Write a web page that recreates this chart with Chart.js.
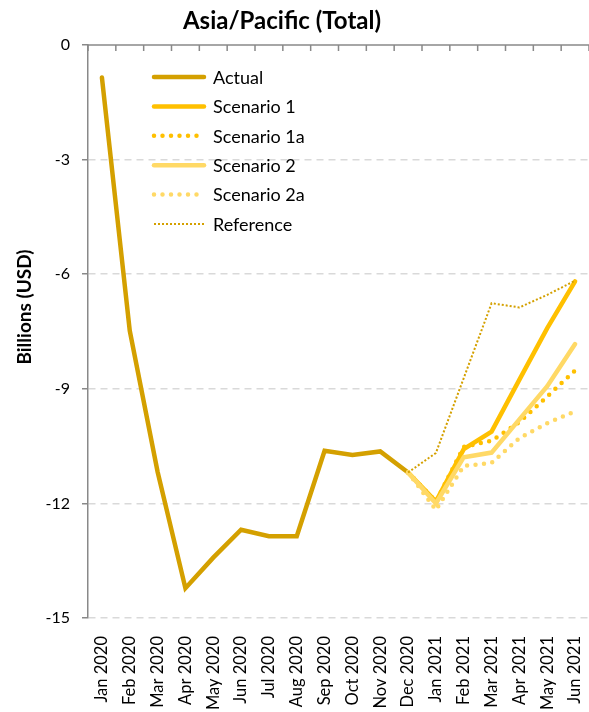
<!DOCTYPE html>
<html>
<head>
<meta charset="utf-8">
<script src="https://cdn.jsdelivr.net/npm/chart.js@4.4.1/dist/chart.umd.min.js"></script>
<style>
  html, body { margin: 0; padding: 0; background: #fff; }
  #wrap { position: relative; width: 589px; height: 712px; }
</style>
</head>
<body>
<div id="wrap"><canvas id="apChart"></canvas></div>
<script>
// values (billions USD)
const months = ['Jan 2020', 'Feb 2020', 'Mar 2020', 'Apr 2020', 'May 2020', 'Jun 2020',
    'Jul 2020', 'Aug 2020', 'Sep 2020', 'Oct 2020', 'Nov 2020', 'Dec 2020',
    'Jan 2021', 'Feb 2021', 'Mar 2021', 'Apr 2021', 'May 2021', 'Jun 2021'];
const pad = Array(11).fill(null);
const actual = [-0.85, -7.48, -11.17, -14.22, -13.42, -12.69, -12.86, -12.86, -10.62, -10.73, -10.64, -11.19];
const scenario1 = pad.concat([-11.19, -11.95, -10.58, -10.12, -8.76, -7.41, -6.19]);
const scenario1a = pad.concat([-11.19, -11.95, -10.52, -10.36, -9.87, -9.2, -8.52]);
const scenario2 = pad.concat([-11.19, -12.0, -10.79, -10.67, -9.8, -8.93, -7.83]);
const scenario2a = pad.concat([-11.19, -12.17, -11.02, -10.94, -10.29, -9.9, -9.59]);
const reference = pad.concat([-11.19, -10.68, -8.72, -6.76, -6.87, -6.54, -6.17]);
const yTicks = [0, -3, -6, -9, -12, -15];

const FONT = 'Lato, "Open Sans", sans-serif';
const dark = 'rgb(212,160,0)';
const gold = 'rgb(255,192,0)';
const light = 'rgb(255,217,102)';

function series(label, data, color, width, dash, cap, order) {
    return {
        label: label,
        data: data,
        borderColor: color,
        backgroundColor: color,
        borderWidth: width,
        borderDash: dash,
        borderCapStyle: cap,
        pointRadius: 0,
        pointHoverRadius: 0,
        tension: 0,
        spanGaps: false,
        order: order
    };
}

// title, y title, top axis line (category axis crosses at 0) and in-plot legend
const extras = {
    id: 'extras',
    beforeDatasetsDraw(chart) {
        const ctx = chart.ctx;
        const x = chart.scales.x;
        const y0 = chart.scales.y.getPixelForValue(0);
        ctx.save();
        ctx.strokeStyle = '#898989';
        ctx.lineWidth = 1.5;
        ctx.beginPath();
        ctx.moveTo(chart.chartArea.left, y0);
        ctx.lineTo(chart.chartArea.right, y0);
        for (let i = 0; i <= months.length; i++) {
            let px;
            if (i === 0) px = chart.chartArea.left;
            else if (i === months.length) px = chart.chartArea.right;
            else px = (x.getPixelForValue(i - 1) + x.getPixelForValue(i)) / 2;
            ctx.moveTo(px, y0);
            ctx.lineTo(px, y0 + 6);
        }
        ctx.stroke();
        ctx.restore();
    },
    afterDraw(chart) {
        const ctx = chart.ctx;
        const area = chart.chartArea;
        ctx.save();
        ctx.fillStyle = '#000';
        ctx.font = 'bold 24px ' + FONT;
        ctx.textAlign = 'center';
        ctx.textBaseline = 'middle';
        ctx.fillText('Asia/Pacific (Total)', 282, 21);

        ctx.save();
        ctx.translate(25, 307);
        ctx.rotate(-Math.PI / 2);
        ctx.font = 'bold 19px ' + FONT;
        ctx.fillText('Billions (USD)', 0, 0);
        ctx.restore();

        const lx = area.left + 66;
        let ly = area.top + 32;
        ctx.font = '18px ' + FONT;
        ctx.textAlign = 'left';
        chart.data.datasets.forEach(function (ds) {
            ctx.save();
            ctx.strokeStyle = ds.borderColor;
            ctx.lineWidth = ds.borderWidth;
            ctx.lineCap = ds.borderCapStyle;
            ctx.setLineDash(ds.borderDash);
            ctx.beginPath();
            ctx.moveTo(lx, ly);
            ctx.lineTo(lx + 50, ly);
            ctx.stroke();
            ctx.restore();
            ctx.fillText(ds.label, lx + 59, ly + 1);
            ly += 29.4;
        });
        ctx.restore();
    }
};

document.addEventListener('DOMContentLoaded', function () {
    const ctx = document.getElementById('apChart').getContext('2d');
    const apChart = new Chart(ctx, {
        type: 'line',
        data: {
            labels: months,
            datasets: [
                series('Actual', actual, dark, 4.5, [], 'round', 0),
                series('Scenario 1', scenario1, gold, 4.5, [], 'round', -1),
                series('Scenario 1a', scenario1a, gold, 4.5, [0, 8.5], 'round', -2),
                series('Scenario 2', scenario2, light, 4.5, [], 'round', -3),
                series('Scenario 2a', scenario2a, light, 4.5, [0, 8.5], 'round', -4),
                series('Reference', reference, dark, 2, [2, 2], 'butt', -5)
            ]
        },
        options: {
            responsive: true,
            maintainAspectRatio: false,
            animation: false,
            layout: { padding: { top: 45, right: 0, left: 0, bottom: 2 } },
            plugins: {
                legend: { display: false },
                tooltip: { enabled: false },
                title: { display: false }
            },
            scales: {
                x: {
                    offset: true,
                    afterFit: function (axis) {
                        axis.height = 92;
                        axis.paddingLeft = 0;
                        axis.paddingRight = 0;
                    },
                    grid: { display: false },
                    border: { display: false },
                    ticks: {
                        minRotation: 90,
                        maxRotation: 90,
                        autoSkip: false,
                        padding: 10,
                        color: '#000',
                        font: { family: FONT, size: 16.5 }
                    }
                },
                y: {
                    min: -15,
                    max: 0,
                    afterBuildTicks: function (axis) {
                        axis.ticks = yTicks.map(function (v) { return { value: v }; });
                    },
                    afterFit: function (axis) { axis.width = 88; },
                    grid: {
                        color: function (c) { return c.tick && c.tick.value === 0 ? 'rgba(0,0,0,0)' : '#D9D9D9'; },
                        lineWidth: 1.5,
                        drawTicks: true,
                        tickLength: 6,
                        tickColor: '#898989',
                        tickWidth: 1.5
                    },
                    border: { display: true, color: '#898989', width: 1.5, dash: [7, 5] },
                    ticks: {
                        padding: 12,
                        color: '#000',
                        font: { family: FONT, size: 16 }
                    }
                }
            }
        },
        plugins: [extras]
    });
});
</script>
</body>
</html>
